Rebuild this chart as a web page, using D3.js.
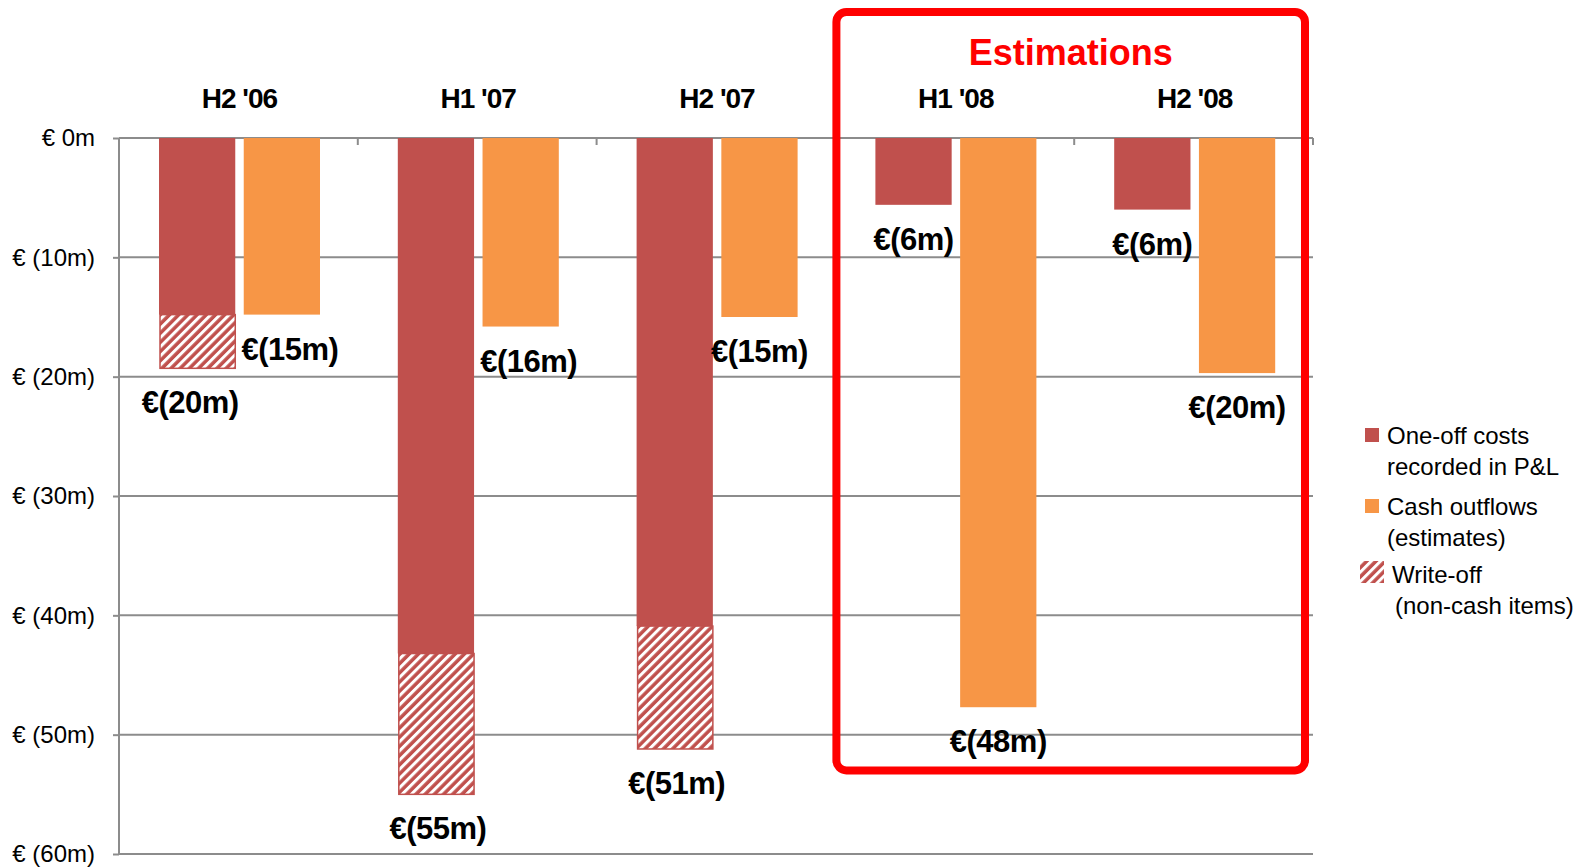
<html>
<head>
<meta charset="utf-8">
<title>One-off costs and cash outflows</title>
<style type="text/css">
body { margin: 0; background: #fff; }
svg { font-family: Arial, "Liberation Sans", sans-serif; display: block; }
.grid line { stroke: #8c8c8c; stroke-width: 2px; }
.axis path, .axis line { stroke: #8c8c8c; stroke-width: 2px; }
.axis text { font-size: 24px; fill: #000; }
.cat { font-size: 28px; font-weight: bold; letter-spacing: -1px; text-anchor: middle; }
.val { font-size: 31px; font-weight: bold; letter-spacing: -0.5px; text-anchor: middle; }
.legend text { font-size: 24px; fill: #000; }
</style>
</head>
<body>
<script src="https://d3js.org/d3.v7.min.js"></script>
<script>
// data (EUR m, negative = outflow)
var categories = ["H2 '06", "H1 '07", "H2 '07", "H1 '08", "H2 '08"];
var pnlCosts   = [-19.3, -55.0, -51.2, -5.6, -6.0];   // one-off costs incl. write-off
var writeOffs  = [4.5, 11.8, 10.3, 0, 0];             // non-cash part of pnlCosts
var cashOut    = [-14.8, -15.8, -15.0, -47.7, -19.7];
var pnlLabels  = ["€(20m)", "€(55m)", "€(51m)", "€(6m)", "€(6m)"];
var cashLabels = ["€(15m)", "€(16m)", "€(15m)", "€(48m)", "€(20m)"];
var yTicks      = [0, -10, -20, -30, -40, -50, -60];
var yTickLabels = ["€ 0m", "€ (10m)", "€ (20m)", "€ (30m)", "€ (40m)", "€ (50m)", "€ (60m)"];
var estimated   = ["H1 '08", "H2 '08"];

// small label nudges (px) where the original labels sit off-centre
var pnlNudge  = [-7, 2, 2, 0, 0],
    cashNudge = [8, 8, 0, 0, 0];

var W = 1592, H = 868;
var x0 = 119, x1 = 1313, yTop = 138, yBot = 854;

var red = "#c0504d", orange = "#f79646";

var xs = d3.scaleBand().domain(categories).range([x0, x1]);
var xsub = d3.scaleBand().domain(["pnl", "cash"]).range([40, 201]).paddingInner(0.1);
var ys = d3.scaleLinear().domain([0, -60]).range([yTop, yBot]);

var svg = d3.select("body").append("svg")
    .attr("width", W)
    .attr("height", H);

// hatch pattern for write-offs
var defs = svg.append("defs");
var pat = defs.append("pattern")
    .attr("id", "hatch")
    .attr("patternUnits", "userSpaceOnUse")
    .attr("width", 6.5).attr("height", 6.5)
    .attr("patternTransform", "rotate(45)");
pat.append("rect").attr("width", 6.5).attr("height", 6.5).attr("fill", red);
pat.append("rect").attr("width", 3).attr("height", 6.5).attr("fill", "#fff");

// gridlines
svg.append("g").attr("class", "grid")
  .selectAll("line").data(yTicks.slice(1)).join("line")
    .attr("x1", x0).attr("x2", x1)
    .attr("y1", d => ys(d)).attr("y2", d => ys(d));

// y axis
var yAxis = d3.axisLeft(ys)
    .tickValues(yTicks)
    .tickSize(6)
    .tickPadding(18)
    .tickFormat((d, i) => yTickLabels[i]);
svg.append("g").attr("class", "axis")
    .attr("transform", "translate(" + x0 + ",0)")
    .call(yAxis)
    .call(g => g.select(".domain").attr("d", "M0," + yTop + "V" + yBot));

// zero line with category ticks pointing down
var xAxis = d3.axisBottom(xs).tickSize(0).tickFormat("");
svg.append("g").attr("class", "axis")
    .attr("transform", "translate(0," + ys(0) + ")")
    .call(xAxis)
    .call(g => g.select(".domain").attr("d", "M" + x0 + ",0H" + x1));
svg.append("g").attr("class", "axis")
  .selectAll("line").data(categories).join("line")
    .attr("x1", d => xs(d) + xs.bandwidth()).attr("x2", d => xs(d) + xs.bandwidth())
    .attr("y1", ys(0)).attr("y2", ys(0) + 7);

var groups = svg.append("g").selectAll("g").data(categories).join("g")
    .attr("transform", d => "translate(" + xs(d) + ",0)");

// one-off costs: solid part
groups.append("rect")
    .attr("x", xsub("pnl"))
    .attr("width", xsub.bandwidth())
    .attr("y", ys(0))
    .attr("height", (d, i) => ys(pnlCosts[i] + writeOffs[i]) - ys(0))
    .attr("fill", red);

// write-off (hatched) part
groups.filter((d, i) => writeOffs[i] > 0).append("rect")
    .attr("x", xsub("pnl") + 1)
    .attr("width", xsub.bandwidth() - 1)
    .attr("y", d => ys(pnlCosts[categories.indexOf(d)] + writeOffs[categories.indexOf(d)]))
    .attr("height", d => { var i = categories.indexOf(d); return ys(pnlCosts[i]) - ys(pnlCosts[i] + writeOffs[i]); })
    .attr("fill", "url(#hatch)")
    .attr("stroke", red)
    .attr("stroke-width", 1.5);

// cash outflows
groups.append("rect")
    .attr("x", xsub("cash"))
    .attr("width", xsub.bandwidth())
    .attr("y", ys(0))
    .attr("height", (d, i) => ys(cashOut[i]) - ys(0))
    .attr("fill", orange);

// value labels
groups.append("text").attr("class", "val")
    .attr("x", (d, i) => xsub("pnl") + xsub.bandwidth() / 2 + pnlNudge[i])
    .attr("y", (d, i) => ys(pnlCosts[i]) + 45)
    .text((d, i) => pnlLabels[i]);
groups.append("text").attr("class", "val")
    .attr("x", (d, i) => xsub("cash") + xsub.bandwidth() / 2 + cashNudge[i])
    .attr("y", (d, i) => ys(cashOut[i]) + 45)
    .text((d, i) => cashLabels[i]);

// category labels
svg.append("g").selectAll("text").data(categories).join("text")
    .attr("class", "cat")
    .attr("x", d => xs(d) + xs.bandwidth() / 2 + 1)
    .attr("y", 108)
    .text(d => d);

// estimations box
var bx0 = xs(estimated[0]) + 1,
    bx1 = xs(estimated[estimated.length - 1]) + xs.bandwidth() - 8;
svg.append("rect")
    .attr("x", bx0).attr("y", 12)
    .attr("width", bx1 - bx0)
    .attr("height", ys(-53) - 12)
    .attr("rx", 10).attr("ry", 10)
    .attr("fill", "none")
    .attr("stroke", "#ff0000")
    .attr("stroke-width", 8);
svg.append("text")
    .attr("x", (bx0 + bx1) / 2)
    .attr("y", 65)
    .attr("text-anchor", "middle")
    .attr("font-size", 36)
    .attr("font-weight", "bold")
    .attr("fill", "#ff0000")
    .text("Estimations");

// legend
var legend = svg.append("g").attr("class", "legend");
var legendItems = [
  { fill: red,           lines: ["One-off costs", "recorded in P&L"],  y: 428, sx: 1365, sw: 14, sh: 14, tx: 1387, ty: 16 },
  { fill: orange,        lines: ["Cash outflows", "(estimates)"],      y: 499, sx: 1365, sw: 14, sh: 14, tx: 1387, ty: 16 },
  { fill: "url(#hatch)", lines: ["Write-off", "(non-cash items)"],     y: 561, sx: 1360, sw: 24, sh: 22, tx: 1392, ty: 22 }
];
legendItems.forEach(function (it) {
  legend.append("rect")
      .attr("x", it.sx).attr("y", it.y)
      .attr("width", it.sw).attr("height", it.sh)
      .attr("fill", it.fill);
  legend.append("text")
      .attr("x", it.tx).attr("y", it.y + it.ty)
      .selectAll("tspan").data(it.lines).join("tspan")
      .attr("x", (d, i) => it.tx + (it.ty > 16 && i ? 3 : 0))
      .attr("dy", (d, i) => i ? 31 : 0)
      .text(d => d);
});
</script>
</body>
</html>
